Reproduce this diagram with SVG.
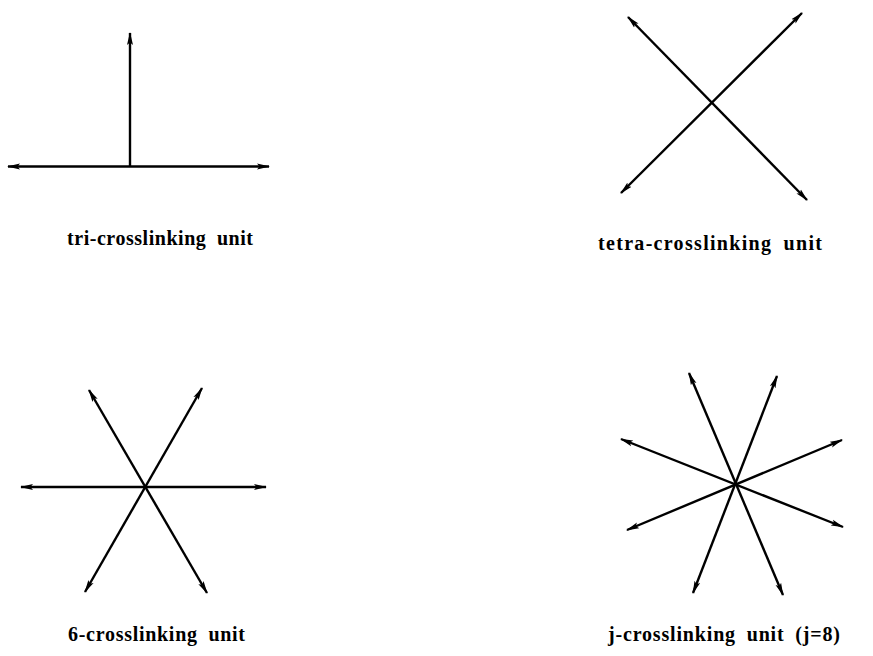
<svg xmlns="http://www.w3.org/2000/svg" width="873" height="656" viewBox="0 0 873 656">
<style>
.c line{stroke:#000;stroke-width:2.4;fill:none;marker-start:url(#ah);marker-end:url(#ah)}
.c line.s{marker-start:none}
text{font-family:"Liberation Serif","Times New Roman",serif;font-weight:bold;font-size:20px;fill:#000;word-spacing:5px}
</style>
<defs>
<marker id="ah" viewBox="0 0 13 8" refX="12" refY="4" markerWidth="13" markerHeight="8" markerUnits="userSpaceOnUse" orient="auto-start-reverse">
<path d="M0,1 L13,4 L0,7 L2.5,4 Z" fill="#000"/>
</marker>
</defs>
<rect width="873" height="656" fill="#fff"/>
<g id="connectors" class="c">
<line x1="8" y1="166.5" x2="269" y2="166.5"/>
<line class="s" x1="130" y1="166.5" x2="130" y2="33"/>
<line x1="628" y1="17" x2="807" y2="200"/>
<line x1="802" y1="13" x2="621" y2="193"/>
<line x1="21" y1="487" x2="266" y2="487"/>
<line x1="89" y1="390" x2="207" y2="593"/>
<line x1="202" y1="388" x2="85" y2="592"/>
<line x1="689" y1="373" x2="783" y2="595"/>
<line x1="777" y1="376" x2="693" y2="593"/>
<line x1="621" y1="439" x2="843" y2="527"/>
<line x1="842" y1="440" x2="627" y2="530"/>
</g>
<g id="tri"><text x="67" y="245" textLength="186" lengthAdjust="spacing">tri-crosslinking unit</text></g>
<g id="tetra"><text x="598" y="250" textLength="224" lengthAdjust="spacing">tetra-crosslinking unit</text></g>
<g id="six"><text x="68" y="641" textLength="177" lengthAdjust="spacing">6-crosslinking unit</text></g>
<g id="j8"><text x="608" y="641" textLength="232" lengthAdjust="spacing">j-crosslinking unit (j=8)</text></g>
</svg>
